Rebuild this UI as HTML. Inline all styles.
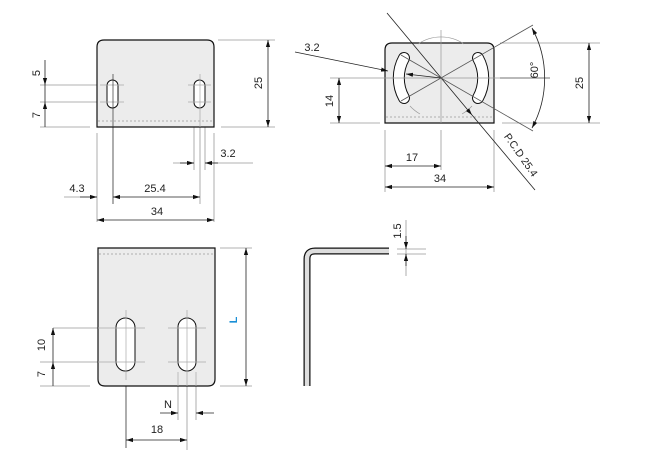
<!DOCTYPE html>
<html><head><meta charset="utf-8"><style>
html,body{margin:0;padding:0;background:#fff;width:651px;height:454px;overflow:hidden}
svg{display:block}
text{font-family:"Liberation Sans",sans-serif;font-size:11px;fill:#222}
</style></head><body>
<svg width="651" height="454" viewBox="0 0 651 454" xmlns="http://www.w3.org/2000/svg">
<defs>
<marker id="a" viewBox="0 0 10 10" refX="10" refY="5" markerWidth="7" markerHeight="7" orient="auto-start-reverse" markerUnits="userSpaceOnUse"><path d="M0,2 L10,5 L0,8z" fill="#111"/></marker>
</defs>
<g stroke="#999" stroke-width="0.8" fill="none">
<line x1="40" y1="85" x2="97" y2="85"/><line x1="40" y1="102" x2="97" y2="102"/><line x1="40" y1="127" x2="90" y2="127"/>
<line x1="218" y1="40" x2="275" y2="40"/><line x1="221" y1="127" x2="275" y2="127"/>
<line x1="97" y1="133" x2="97" y2="222"/><line x1="214" y1="133" x2="214" y2="222"/>
<line x1="113" y1="127" x2="113" y2="204" stroke="#333"/>
<line x1="194" y1="127" x2="194" y2="170"/><line x1="200" y1="127" x2="200" y2="204"/><line x1="205" y1="127" x2="205" y2="170"/>
<line x1="173" y1="163" x2="194" y2="163"/><line x1="205" y1="163" x2="253" y2="163"/>
<line x1="64" y1="197" x2="97" y2="197"/>
<line x1="330" y1="78" x2="380" y2="78"/><line x1="330" y1="123" x2="380" y2="123"/>
<line x1="500" y1="43" x2="600" y2="43"/><line x1="502" y1="123" x2="600" y2="123"/>
<line x1="385" y1="130" x2="385" y2="192"/><line x1="494" y1="130" x2="494" y2="192"/><line x1="441" y1="130" x2="441" y2="170"/>
<line x1="53" y1="328" x2="98" y2="328"/><line x1="40" y1="362" x2="98" y2="362"/><line x1="40" y1="386" x2="90" y2="386"/>
<line x1="220" y1="248" x2="252" y2="248"/><line x1="220" y1="386" x2="252" y2="386"/>
<line x1="178" y1="386" x2="178" y2="420"/><line x1="196" y1="386" x2="196" y2="420"/>
<line x1="187" y1="386" x2="187" y2="450"/>
<line x1="126" y1="386" x2="126" y2="448" stroke="#333"/>
<line x1="397" y1="249" x2="426" y2="249"/><line x1="397" y1="254" x2="426" y2="254"/>
<line x1="406" y1="220" x2="406" y2="276"/>
</g>
<!-- plates -->
<path d="M97,127 V47 Q97,40 104,40 H207 Q214,40 214,47 V127 Z" fill="#ececec" stroke="#111" stroke-width="1.2"/>
<line x1="98" y1="121" x2="213" y2="121" stroke="#999" stroke-dasharray="2,2" stroke-width="0.8"/>
<rect x="107" y="80" width="11" height="28" rx="5.5" fill="#fff" stroke="#111"/>
<rect x="194" y="80" width="11" height="28" rx="5.5" fill="#fff" stroke="#111"/>
<g stroke="#aaa" stroke-width="0.7">
<line x1="100" y1="85" x2="124" y2="85"/><line x1="100" y1="102" x2="124" y2="102"/><line x1="113" y1="74" x2="113" y2="127" stroke="#333"/>
<line x1="188" y1="85" x2="211" y2="85"/><line x1="188" y1="102" x2="211" y2="102"/><line x1="200" y1="74" x2="200" y2="127"/>
</g>
<path d="M385,123 V50 Q385,43 392,43 H487 Q494,43 494,50 V123 Z" fill="#ececec" stroke="#111" stroke-width="1.2"/>
<line x1="386" y1="117" x2="493" y2="117" stroke="#999" stroke-dasharray="2,2" stroke-width="0.8"/>
<g fill="none" stroke-linecap="round">
<path d="M404,58 A41,41 0 0 0 404,98" stroke="#111" stroke-width="12"/>
<path d="M404,58 A41,41 0 0 0 404,98" stroke="#fff" stroke-width="10"/>
<path d="M478,58 A41,41 0 0 1 478,98" stroke="#111" stroke-width="12"/>
<path d="M478,58 A41,41 0 0 1 478,98" stroke="#fff" stroke-width="10"/>
</g>
<g stroke="#999" stroke-width="0.7" fill="none">
<path d="M418,44 A41,41 0 0 1 464,44"/>
<path d="M410,106 A41,41 0 0 0 420,114"/><path d="M462,114 A41,41 0 0 0 472,106"/>
<line x1="441" y1="30" x2="441" y2="123"/><line x1="380" y1="78" x2="500" y2="78"/>
</g>
<line x1="500" y1="78" x2="550" y2="78" stroke="#444" stroke-width="0.8"/>
<path d="M98,248 H215 V379 Q215,386 208,386 H105 Q98,386 98,379 Z" fill="#ececec" stroke="#111" stroke-width="1.2"/>
<line x1="99" y1="254" x2="214" y2="254" stroke="#999" stroke-dasharray="2,2" stroke-width="0.8"/>
<rect x="116" y="318" width="19" height="53" rx="9.5" fill="#fff" stroke="#111"/>
<rect x="178" y="318" width="18" height="53" rx="9" fill="#fff" stroke="#111"/>
<g stroke="#aaa" stroke-width="0.7">
<line x1="98" y1="328" x2="145" y2="328"/><line x1="98" y1="362" x2="145" y2="362"/><line x1="126" y1="310" x2="126" y2="380"/>
<line x1="168" y1="328" x2="206" y2="328"/><line x1="168" y1="362" x2="206" y2="362"/><line x1="187" y1="310" x2="187" y2="386"/>
<line x1="178" y1="372" x2="178" y2="386"/><line x1="196" y1="372" x2="196" y2="386"/>
</g>
<path d="M307,386 V259 Q307,251 315,251 H389" fill="none" stroke="#111" stroke-width="7"/>
<path d="M307,386 V259 Q307,251 315,251 H389" fill="none" stroke="#ddd" stroke-width="4.5"/>
<g stroke="#222" stroke-width="0.8" fill="none">
<line x1="45" y1="60" x2="45" y2="85" marker-end="url(#a)"/>
<line x1="45" y1="85" x2="45" y2="102"/>
<line x1="45" y1="127" x2="45" y2="102" marker-end="url(#a)"/>
<line x1="268" y1="40" x2="268" y2="127" marker-start="url(#a)" marker-end="url(#a)"/>
<line x1="180" y1="163" x2="194" y2="163" marker-end="url(#a)"/>
<line x1="218" y1="163" x2="205" y2="163" marker-end="url(#a)"/>
<line x1="80" y1="197" x2="97" y2="197" marker-end="url(#a)"/>
<line x1="113" y1="197" x2="200" y2="197" marker-start="url(#a)" marker-end="url(#a)"/>
<line x1="97" y1="220" x2="214" y2="220" marker-start="url(#a)" marker-end="url(#a)"/>
<line x1="339" y1="78" x2="339" y2="123" marker-start="url(#a)" marker-end="url(#a)"/>
<line x1="589" y1="43" x2="589" y2="123" marker-start="url(#a)" marker-end="url(#a)"/>
<line x1="385" y1="166" x2="441" y2="166" marker-start="url(#a)" marker-end="url(#a)"/>
<line x1="385" y1="187" x2="494" y2="187" marker-start="url(#a)" marker-end="url(#a)"/>
<line x1="387" y1="13" x2="472" y2="115" marker-end="url(#a)"/>
<line x1="472" y1="115" x2="535" y2="190"/>
<line x1="295" y1="52" x2="388" y2="71" marker-end="url(#a)"/>
<line x1="441" y1="78" x2="406" y2="74" marker-end="url(#a)"/>
<line x1="401" y1="101" x2="533" y2="25" stroke="#555"/>
<line x1="401" y1="55" x2="533" y2="131" stroke="#555"/>
<path d="M532,28 A105,105 0 0 1 532,128" marker-start="url(#a)" marker-end="url(#a)"/>
<line x1="53" y1="328" x2="53" y2="362" marker-start="url(#a)"/>
<line x1="53" y1="386" x2="53" y2="362" marker-end="url(#a)"/>
<line x1="246" y1="248" x2="246" y2="386" marker-start="url(#a)" marker-end="url(#a)"/>
<line x1="160" y1="413" x2="178" y2="413" marker-end="url(#a)"/>
<line x1="214" y1="413" x2="196" y2="413" marker-end="url(#a)"/>
<line x1="126" y1="440" x2="187" y2="440" marker-start="url(#a)" marker-end="url(#a)"/>
<line x1="406" y1="236" x2="406" y2="249" marker-end="url(#a)"/>
<line x1="406" y1="266" x2="406" y2="254" marker-end="url(#a)"/>
</g>
<text transform="translate(40,73) rotate(-90)" text-anchor="middle">5</text>
<text transform="translate(40,115) rotate(-90)" text-anchor="middle">7</text>
<text transform="translate(262,83) rotate(-90)" text-anchor="middle">25</text>
<text x="228" y="157" text-anchor="middle">3.2</text>
<text x="77" y="192" text-anchor="middle">4.3</text>
<text x="155" y="192" text-anchor="middle">25.4</text>
<text x="157" y="215" text-anchor="middle">34</text>
<text x="312" y="51" text-anchor="middle">3.2</text>
<text transform="translate(333,101) rotate(-90)" text-anchor="middle">14</text>
<text transform="translate(583,83) rotate(-90)" text-anchor="middle">25</text>
<text transform="translate(538,70) rotate(-90)" text-anchor="middle">60°</text>
<text transform="translate(518,157) rotate(55)" text-anchor="middle" style="font-size:10.5px">P.C.D 25.4</text>
<text x="412" y="161" text-anchor="middle">17</text>
<text x="440" y="182" text-anchor="middle">34</text>
<text transform="translate(45,345) rotate(-90)" text-anchor="middle">10</text>
<text transform="translate(45,374) rotate(-90)" text-anchor="middle">7</text>
<text transform="translate(237,320) rotate(-90)" text-anchor="middle" style="fill:#1a8fd6;font-weight:bold">L</text>
<text x="168" y="408" text-anchor="middle">N</text>
<text x="157" y="433" text-anchor="middle">18</text>
<text transform="translate(401,231) rotate(-90)" text-anchor="middle">1.5</text>
</svg>
</body></html>
